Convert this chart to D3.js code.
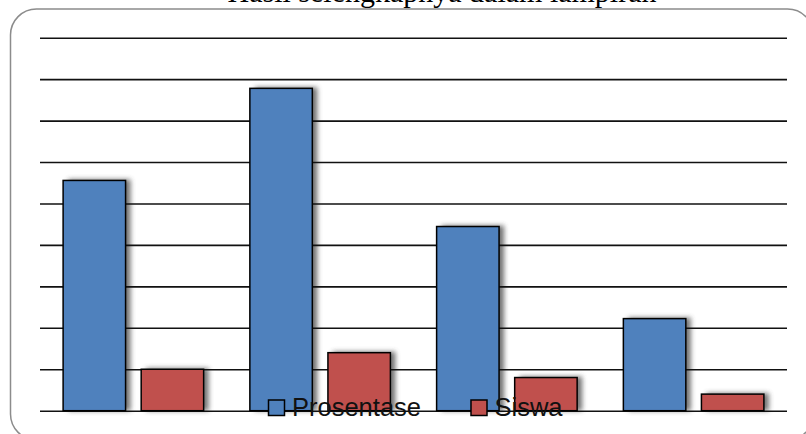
<!DOCTYPE html>
<html>
<head>
<meta charset="utf-8">
<script src="https://cdn.jsdelivr.net/npm/d3@7"></script>
<style>
  body { margin: 0; background: #fff; }
  svg { display: block; }
</style>
</head>
<body>
<div id="chart"></div>
<script>
// data
const categories = ["1", "2", "3", "4"]
const prosentase = [55.56, 77.78, 44.44, 22.22]
const siswa = [10, 14, 8, 4]
const seriesNames = ["Prosentase", "Siswa"]
const yTicks = [0, 10, 20, 30, 40, 50, 60, 70, 80, 90]

const COLORS = { Prosentase: "#4F81BD", Siswa: "#C0504D" }
const W = 806, H = 434
const PLOT = { LEFT: 40, RIGHT: 787, TOP: 37.7, BOTTOM: 410.7 }

const data = categories.map((c, i) => ({ cat: c, Prosentase: prosentase[i], Siswa: siswa[i] }))

const svg = d3.select("#chart").append("svg")
	.attr("width", W)
	.attr("height", H)

const defs = svg.append("defs")
defs.append("filter")
		.attr("id", "blur")
		.attr("x", "-50%").attr("y", "-50%")
		.attr("width", "200%").attr("height", "200%")
	.append("feGaussianBlur")
		.attr("stdDeviation", 2.6)

// title text cut off at the top (as in the source)
svg.append("text")
	.attr("x", 442)
	.attr("y", 2)
	.attr("text-anchor", "middle")
	.style("font-family", "'Liberation Serif', 'Times New Roman', serif")
	.style("font-size", "30px")
	.attr("fill", "#000")
	.text("Hasil selengkapnya dalam lampiran")

// rounded frame
svg.append("rect")
	.attr("x", 10.5)
	.attr("y", 9)
	.attr("width", 803)
	.attr("height", 431)
	.attr("rx", 26)
	.attr("fill", "#fff")
	.attr("stroke", "#8c8c8c")
	.attr("stroke-width", 1.5)

const y = d3.scaleLinear()
	.domain([0, 90])
	.range([PLOT.BOTTOM, PLOT.TOP])

const x0 = d3.scaleBand()
	.domain(categories)
	.range([PLOT.LEFT, PLOT.RIGHT])
	.padding(0)

const x1 = d3.scaleBand()
	.domain(seriesNames)
	.range([0, x0.bandwidth()])
	.paddingInner(0.2)
	.paddingOuter(0.296)

const groups = data.map(d => seriesNames.map(s => ({ cat: d.cat, key: s, value: d[s] }))).flat()

// shadows behind bars
svg.append("g").selectAll("rect.shadow")
	.data(groups)
	.enter().append("rect")
		.attr("class", "shadow")
		.attr("x", d => x0(d.cat) + x1(d.key) + 5)
		.attr("y", d => y(d.value) - 1)
		.attr("width", x1.bandwidth())
		.attr("height", d => y(0) - y(d.value) + 1)
		.attr("fill", "#444")
		.attr("opacity", 0.75)
		.attr("filter", "url(#blur)")

// gridlines
const yAxisCall = d3.axisLeft(y)
	.tickValues(yTicks)
	.tickSize(-(PLOT.RIGHT - PLOT.LEFT))
	.tickFormat("")

const yAxisGroup = svg.append("g")
	.attr("transform", `translate(${PLOT.LEFT}, 0)`)
	.call(yAxisCall)
yAxisGroup.select(".domain").remove()
yAxisGroup.selectAll("line")
	.attr("stroke", "#111")
	.attr("stroke-width", 1.6)

// bars
svg.append("g").selectAll("rect.bar")
	.data(groups)
	.enter().append("rect")
		.attr("class", "bar")
		.attr("x", d => x0(d.cat) + x1(d.key))
		.attr("y", d => y(d.value))
		.attr("width", x1.bandwidth())
		.attr("height", d => y(0) - y(d.value))
		.attr("fill", d => COLORS[d.key])
		.attr("stroke", "#000")
		.attr("stroke-width", 1.5)

// legend, sitting over the bottom of the plot
const legendX = [268.5, 471]
const legend = svg.append("g")
	.selectAll("g")
	.data(seriesNames)
	.enter().append("g")
		.attr("transform", (d, i) => `translate(${legendX[i]}, 400)`)

legend.append("rect")
	.attr("width", 16)
	.attr("height", 15.5)
	.attr("fill", d => COLORS[d])
	.attr("stroke", "#000")
	.attr("stroke-width", 1.5)

legend.append("text")
	.attr("x", 23.5)
	.attr("y", 16)
	.style("font-family", "'Liberation Sans', Arial, sans-serif")
	.style("font-size", "25.5px")
	.attr("fill", "#111")
	.text(d => d)
</script>
</body>
</html>
